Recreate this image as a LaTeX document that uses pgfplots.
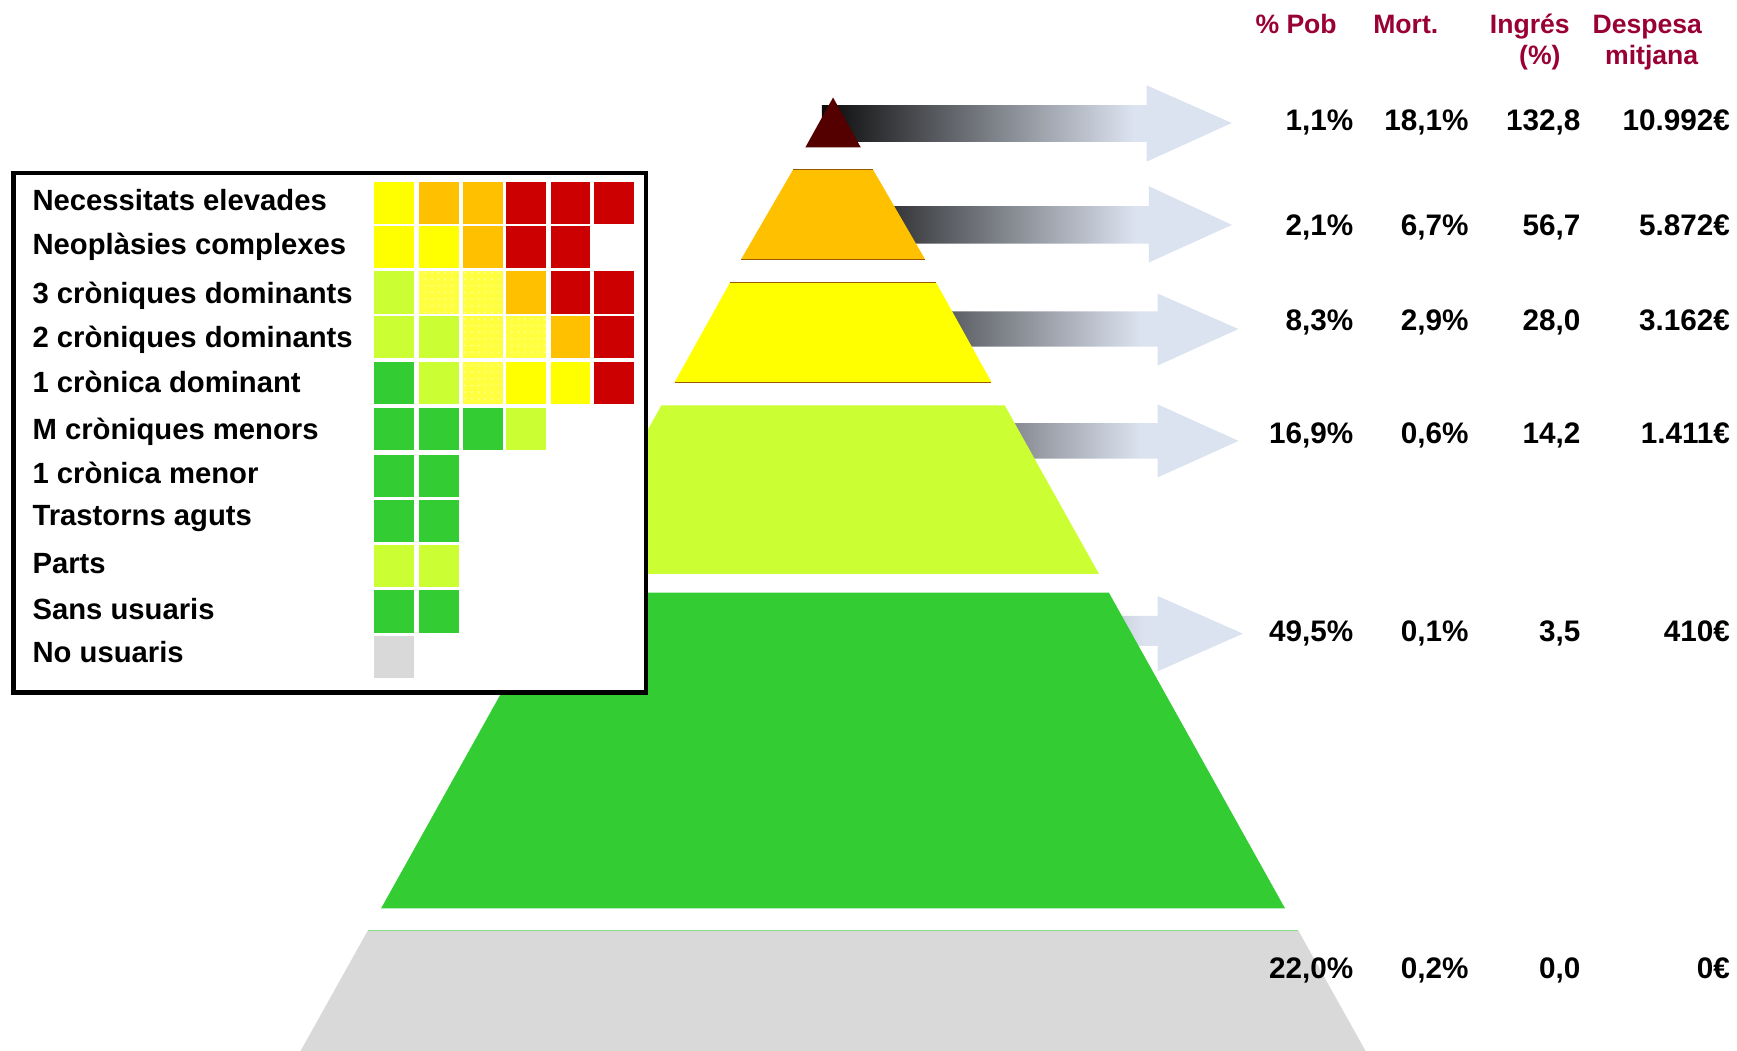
\documentclass[border=0pt]{standalone}
\usepackage{pgfplots}
\pgfplotsset{compat=1.18}
\usepackage{fontspec}
\setmainfont{Liberation Sans}
\usetikzlibrary{patterns}
\definecolor{cY}{HTML}{FFFF00}
\definecolor{cO}{HTML}{FFC000}
\definecolor{cR}{HTML}{CC0000}
\definecolor{cGY}{HTML}{CCFF33}
\definecolor{cG}{HTML}{33CC33}
\definecolor{cGr}{HTML}{D9D9D9}
\definecolor{cDR}{HTML}{550000}
\definecolor{cDY}{HTML}{FFFF40}
\definecolor{hdr}{HTML}{990033}
\definecolor{arrL}{HTML}{DCE3F0}
\definecolor{arrD}{HTML}{0A0A0A}
\definecolor{edge}{HTML}{9C5A00}
\pgfdeclarehorizontalshading{arrgrad}{100bp}{color(0bp)=(arrD); color(25bp)=(arrD); color(63bp)=(arrL); color(100bp)=(arrL)}
\newcommand\cell[3]{\pgfmathsetmacro\xb{#1+36}\pgfmathsetmacro\yb{#2+38}%
  \addplot[fill=#3,draw=none] coordinates {(#1,#2) (\xb,#2) (\xb,\yb) (#1,\yb)} --cycle;}
\newcommand\dcell[2]{\pgfmathsetmacro\xb{#1+36}\pgfmathsetmacro\yb{#2+38}%
  \addplot[fill=cDY,draw=none,postaction={pattern=dots,pattern color=white!55!yellow}] coordinates {(#1,#2) (\xb,#2) (\xb,\yb) (#1,\yb)} --cycle;}
\newcommand\lab[2]{\node[anchor=base west,inner sep=0pt,font=\bfseries\fontsize{13.2}{16}\selectfont] at (axis cs:29,#1) {#2};}
\newcommand\num[3]{\node[anchor=base east,inner sep=0pt,font=\bfseries\fontsize{13.4}{16}\selectfont] at (axis cs:#1,#2) {#3};}
\newcommand\hd[3]{\node[anchor=base,inner sep=0pt,text=hdr,font=\bfseries\fontsize{12}{14}\selectfont] at (axis cs:#1,#2) {#3};}
\begin{document}
\begin{tikzpicture}
\begin{axis}[width=784pt, height=474pt, scale only axis,
  xmin=0, xmax=1568, ymin=0, ymax=948, y dir=reverse, hide axis, clip=true]
\coordinate (SW) at (rel axis cs:0,0);
\coordinate (NE) at (rel axis cs:1,1);
% arrows
\addplot[draw=none, shading=arrgrad] coordinates {(742,95) (1035,95) (1035,77) (1112,111) (1035,146) (1035,128) (742,128)} --cycle;
\addplot[draw=none, shading=arrgrad] coordinates {(750,186) (1037,186) (1037,168) (1112,203) (1037,237) (1037,220) (750,220)} --cycle;
\addplot[draw=none, shading=arrgrad] coordinates {(750,281) (1045,281) (1045,265) (1118,297) (1045,330) (1045,313) (750,313)} --cycle;
\addplot[draw=none, shading=arrgrad] coordinates {(750,382) (1045,382) (1045,365) (1118,398) (1045,431) (1045,414) (750,414)} --cycle;
\addplot[draw=none, shading=arrgrad] coordinates {(750,556) (1045,556) (1045,538) (1122,572) (1045,606) (1045,583) (750,583)} --cycle;
% pyramid
\addplot[fill=cDR, draw=none] coordinates {(752,88) (777,133) (727,133)} --cycle;
\addplot[fill=cO, draw=none] coordinates {(716,153) (788,153) (835,234) (669,234)} --cycle;
\addplot[fill=cY, draw=none] coordinates {(659,255) (845,255) (895,345) (609,345)} --cycle;
\addplot[fill=cGY, draw=none] coordinates {(597,366) (907,366) (992,518) (512,518)} --cycle;
\addplot[fill=cG, draw=none] coordinates {(503,535) (1001,535) (1160,820) (344,820)} --cycle;
\addplot[fill=cGr, draw=none] coordinates {(332,840) (1172,840) (1239,960) (265,960)} --cycle;
\addplot[draw=edge, line width=0.6pt] coordinates {(716,153) (788,153)};
\addplot[draw=edge, line width=0.6pt] coordinates {(669,234) (835,234)};
\addplot[draw=edge, line width=0.6pt] coordinates {(659,255) (845,255)};
\addplot[draw=edge, line width=0.6pt] coordinates {(609,345) (895,345)};
\addplot[draw=cG!60, line width=0.5pt] coordinates {(332,840) (1172,840)};
% legend box
\addplot[fill=white, draw=black, line width=2pt] coordinates {(12,156) (583,156) (583,625) (12,625)} --cycle;
% row 1
\cell{338}{164}{cY}\cell{378}{164}{cO}\cell{418}{164}{cO}\cell{457}{164}{cR}\cell{497}{164}{cR}\cell{536}{164}{cR}
% row 2
\cell{338}{204}{cY}\cell{378}{204}{cY}\cell{418}{204}{cO}\cell{457}{204}{cR}\cell{497}{204}{cR}
% row 3
\cell{338}{245}{cGY}\dcell{378}{245}\dcell{418}{245}\cell{457}{245}{cO}\cell{497}{245}{cR}\cell{536}{245}{cR}
% row 4
\cell{338}{285}{cGY}\cell{378}{285}{cGY}\dcell{418}{285}\dcell{457}{285}\cell{497}{285}{cO}\cell{536}{285}{cR}
% row 5
\cell{338}{327}{cG}\cell{378}{327}{cGY}\dcell{418}{327}\cell{457}{327}{cY}\cell{497}{327}{cY}\cell{536}{327}{cR}
% row 6
\cell{338}{368}{cG}\cell{378}{368}{cG}\cell{418}{368}{cG}\cell{457}{368}{cGY}
% rows 7-11
\cell{338}{411}{cG}\cell{378}{411}{cG}
\cell{338}{451}{cG}\cell{378}{451}{cG}
\cell{338}{492}{cGY}\cell{378}{492}{cGY}
\cell{338}{533}{cG}\cell{378}{533}{cG}
\cell{338}{574}{cGr}
% legend labels
\lab{190}{Necessitats elevades}
\lab{230}{Neoplàsies complexes}
\lab{274}{3 cròniques dominants}
\lab{314}{2 cròniques dominants}
\lab{354}{1 crònica dominant}
\lab{397}{M cròniques menors}
\lab{436}{1 crònica menor}
\lab{474}{Trastorns aguts}
\lab{518}{Parts}
\lab{559}{Sans usuaris}
\lab{598}{No usuaris}
% headers
\hd{1170}{30}{\% Pob}
\hd{1269}{30}{Mort.}
\hd{1381}{30}{Ingrés}
\hd{1390}{58}{(\%)}
\hd{1487}{30}{Despesa}
\hd{1491}{58}{mitjana}
% values
\num{1222}{118}{1,1\%}\num{1326}{118}{18,1\%}\num{1427}{118}{132,8}\num{1562}{118}{10.992€}
\num{1222}{213}{2,1\%}\num{1326}{213}{6,7\%}\num{1427}{213}{56,7}\num{1562}{213}{5.872€}
\num{1222}{298}{8,3\%}\num{1326}{298}{2,9\%}\num{1427}{298}{28,0}\num{1562}{298}{3.162€}
\num{1222}{400}{16,9\%}\num{1326}{400}{0,6\%}\num{1427}{400}{14,2}\num{1562}{400}{1.411€}
\num{1222}{579}{49,5\%}\num{1326}{579}{0,1\%}\num{1427}{579}{3,5}\num{1562}{579}{410€}
\num{1222}{883}{22,0\%}\num{1326}{883}{0,2\%}\num{1427}{883}{0,0}\num{1562}{883}{0€}
\end{axis}
\pgfresetboundingbox
\path[use as bounding box] (SW) rectangle (NE);
\end{tikzpicture}
\end{document}
